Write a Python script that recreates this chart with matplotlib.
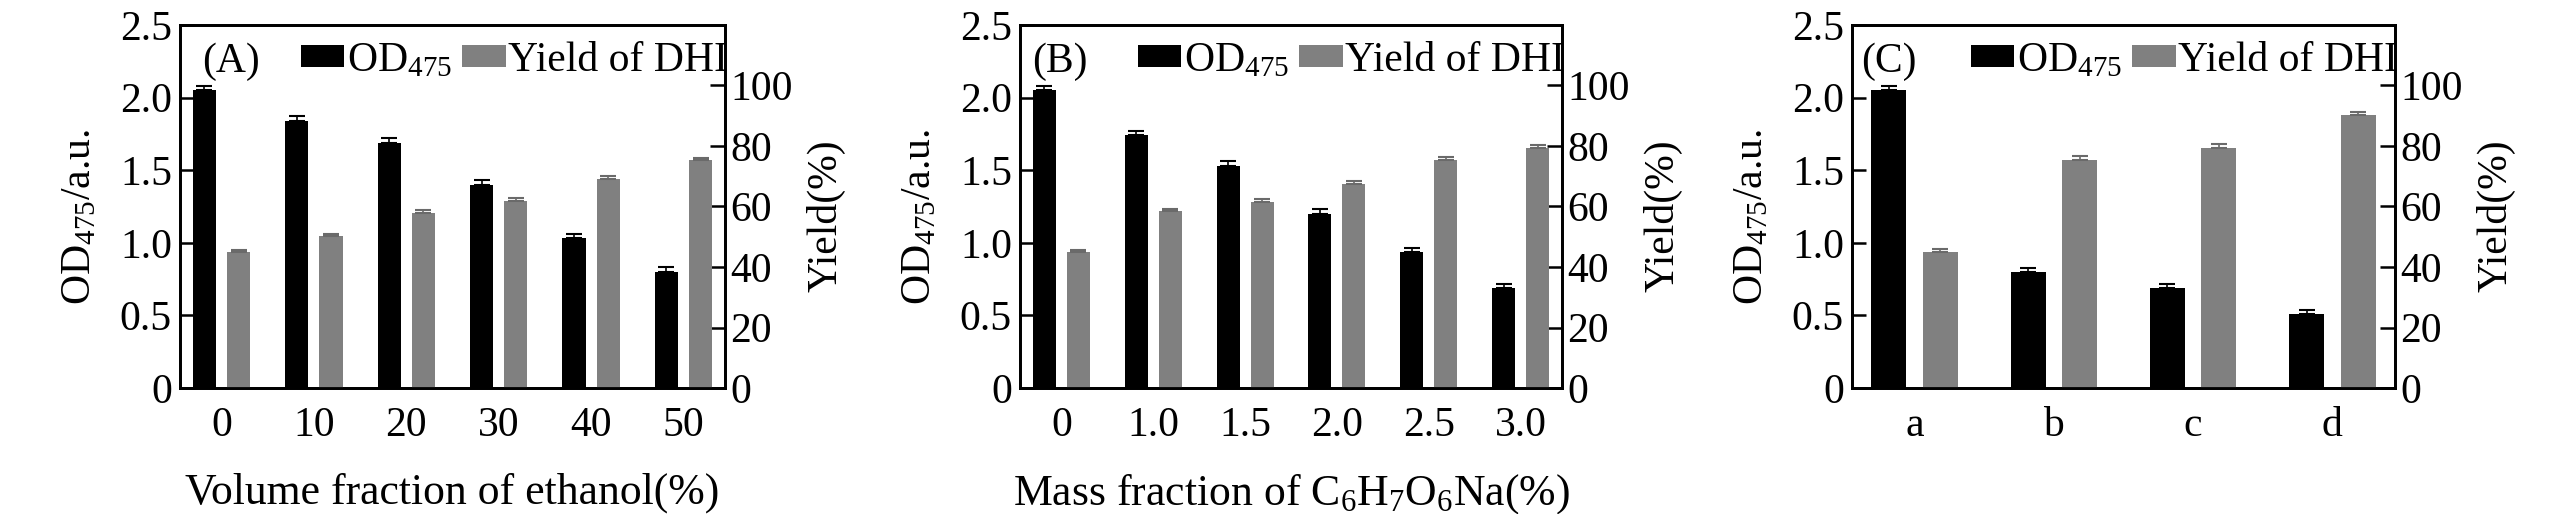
import matplotlib
matplotlib.use('Agg')
import matplotlib.pyplot as plt
import numpy as np
from matplotlib.patches import Patch

plt.rcParams['font.family'] = ['Liberation Serif', 'DejaVu Serif']
plt.rcParams['mathtext.fontset'] = 'custom'
plt.rcParams['mathtext.rm'] = 'Liberation Serif'
plt.rcParams['mathtext.it'] = 'Liberation Serif:italic'
plt.rcParams['mathtext.bf'] = 'Liberation Serif:bold'

# ---------------- data ----------------
a_labels = ['0', '10', '20', '30', '40', '50']
a_od = [2.05, 1.84, 1.69, 1.40, 1.03, 0.80]
a_od_err = [0.03, 0.03, 0.03, 0.03, 0.03, 0.03]
a_yield = [44.8, 50.2, 58.0, 61.9, 69.2, 75.3]
a_yield_err = [0.8, 0.8, 0.8, 0.8, 0.9, 0.8]

b_labels = ['0', '1.0', '1.5', '2.0', '2.5', '3.0']
b_od = [2.05, 1.74, 1.53, 1.20, 0.935, 0.69]
b_od_err = [0.03, 0.03, 0.03, 0.03, 0.03, 0.025]
b_yield = [44.8, 58.4, 61.5, 67.4, 75.3, 79.5]
b_yield_err = [0.8, 0.9, 0.9, 0.9, 0.9, 0.9]

c_labels = ['a', 'b', 'c', 'd']
c_od = [2.05, 0.80, 0.69, 0.51]
c_od_err = [0.03, 0.028, 0.025, 0.025]
c_yield = [44.8, 75.5, 79.5, 90.1]
c_yield_err = [1.3, 1.2, 1.1, 1.3]

left_ticks = [0, 0.5, 1.0, 1.5, 2.0, 2.5]
left_ticklabels = ['0', '0.5', '1.0', '1.5', '2.0', '2.5']
right_ticks = [0, 20, 40, 60, 80, 100]
right_ticklabels = ['0', '20', '40', '60', '80', '100']

panels = [
    ('(A)', a_labels, a_od, a_od_err, a_yield, a_yield_err,
     'Volume fraction of ethanol(%)'),
    ('(B)', b_labels, b_od, b_od_err, b_yield, b_yield_err,
     'Mass fraction of C$_{6}$H$_{7}$O$_{6}$Na(%)'),
    ('(C)', c_labels, c_od, c_od_err, c_yield, c_yield_err, None),
]

# ---------------- layout ----------------
W, H = 2567, 514
fig = plt.figure(figsize=(W / 100, H / 100), dpi=100)
lefts = [180, 1020, 1852]
widths = [545, 542, 543]
top_px, bot_px = 25, 388
tag_x = [0.040, 0.022, 0.017]

FS = 30
BLACK = '#000000'
GRAY = '#808080'
bw = 0.25
off = 0.185

for i, (tag, labels, od, od_err, yl, yl_err, xlabel) in enumerate(panels):
    ax = fig.add_axes([lefts[i] / W, 1 - bot_px / H, widths[i] / W, (bot_px - top_px) / H])
    ax2 = ax.twinx()
    x = np.arange(len(labels))
    ax.bar(x - off, od, width=bw, color=BLACK, zorder=2)
    ax.errorbar(x - off, od, yerr=[[0] * len(od), od_err], fmt='none', ecolor=BLACK,
                elinewidth=1.2, capsize=6, capthick=1.5, zorder=3)
    ax2.bar(x + off, yl, width=bw, color=GRAY, zorder=2)
    ax2.errorbar(x + off, yl, yerr=[[0] * len(yl), yl_err], fmt='none', ecolor='#6a6a6a',
                 elinewidth=1.2, capsize=6, capthick=1.5, zorder=3)

    ax.set_xlim(-0.45, len(labels) - 1 + 0.45)
    ax.set_ylim(0, 2.5)
    ax2.set_ylim(0, 120)
    ax.set_xticks(x)
    ax.set_xticklabels(labels)
    ax.set_yticks(left_ticks)
    ax.set_yticklabels(left_ticklabels)
    ax2.set_yticks(right_ticks)
    ax2.set_yticklabels(right_ticklabels)

    ax.tick_params(axis='x', length=0, pad=13.5, labelsize=FS)
    ax.tick_params(axis='y', direction='in', length=10, width=1.8, pad=5.8, labelsize=FS)
    ax2.tick_params(axis='y', direction='in', length=10.5, width=1.8, pad=3.6, labelsize=FS)

    for a in (ax, ax2):
        for s in a.spines.values():
            s.set_linewidth(2.0)

    ax.set_ylabel('OD$_{\\mathit{475}}$/a.u.', fontsize=FS)
    ax.yaxis.set_label_coords(-0.148, 0.47)
    ax2.set_ylabel('Yield(%)', fontsize=FS)
    ax2.yaxis.set_label_coords(1.15, 0.475)

    if xlabel:
        ax.set_xlabel(xlabel, fontsize=FS + 1.5, va='top')
        ax.xaxis.set_label_coords(0.5, -0.232)

    ax.text(tag_x[i], 0.87, tag, transform=ax.transAxes, fontsize=FS, va='baseline', ha='left')

    handles = [Patch(facecolor=BLACK, edgecolor='none', label='OD$_{475}$'),
               Patch(facecolor=GRAY, edgecolor='none', label='Yield of DHI')]
    ax2.legend(handles=handles, loc='upper right', bbox_to_anchor=(1.005, 0.955), ncol=2,
               frameon=False, fontsize=FS, handlelength=1.05, handleheight=0.45,
               handletextpad=0.05, columnspacing=0.25, borderaxespad=0, borderpad=0)

fig.savefig('out.png', dpi=100)
